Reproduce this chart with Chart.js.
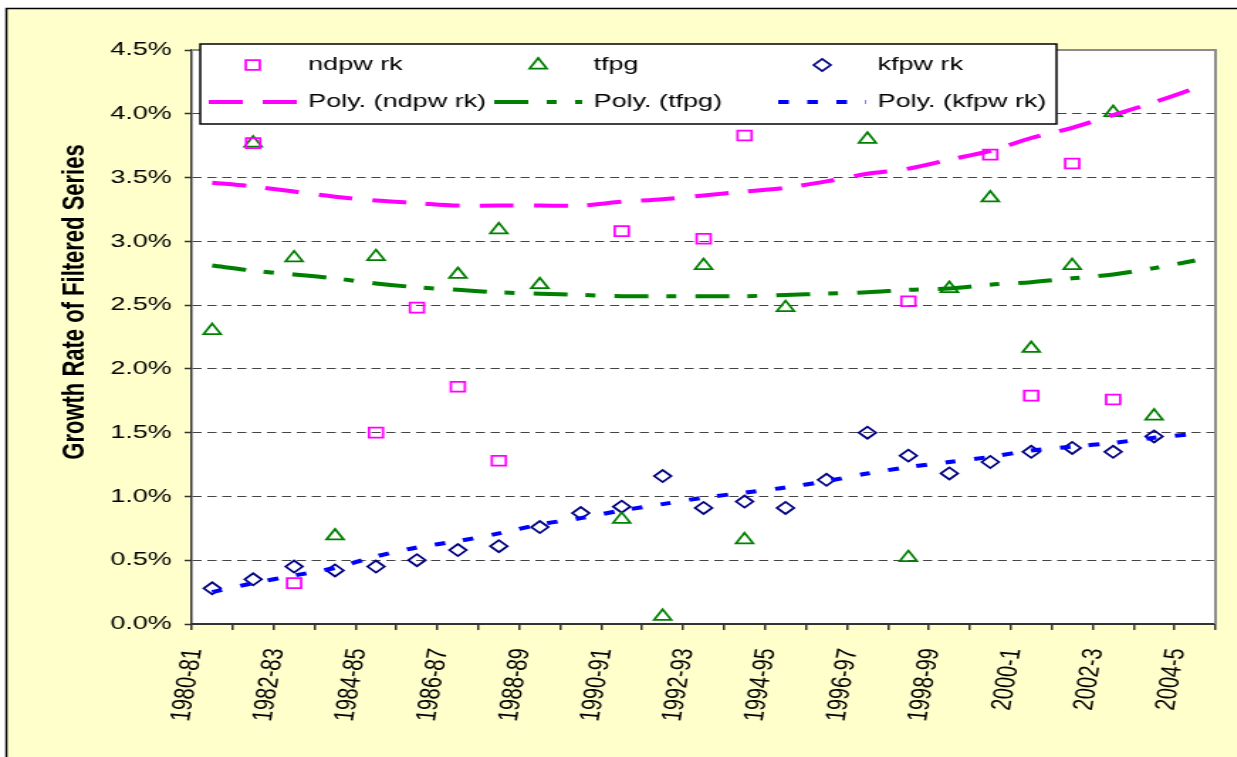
<!DOCTYPE html>
<html>
<head>
<meta charset="utf-8">
<title>Growth Rate of Filtered Series</title>
<script src="https://cdn.jsdelivr.net/npm/chart.js@4.4.1/dist/chart.umd.min.js"></script>
<style>
  html, body { margin: 0; padding: 0; background: #fff; overflow: hidden; }
  /* the source picture is a horizontally stretched export: draw narrow, then widen */
  #wrap { width: 871px; height: 757px; transform: scaleX(1.42); transform-origin: 0 0; }
</style>
</head>
<body>
<div id="wrap"><canvas id="chart" width="871" height="757"></canvas></div>
<script>
/* global Chart */
'use strict';

// ── Data ──────────────────────────────────────────────────────────────────────

const years = [
  '1980-81', '1981-82', '1982-83', '1983-84', '1984-85', '1985-86', '1986-87',
  '1987-88', '1988-89', '1989-90', '1990-91', '1991-92', '1992-93', '1993-94',
  '1994-95', '1995-96', '1996-97', '1997-98', '1998-99', '1999-00', '2000-1',
  '2001-2', '2002-3', '2003-4', '2004-5'
];

// growth rates in %, null where the point falls outside the plotted range
const ndpwrk = [null, 3.77, 0.32, null, 1.50, 2.48, 1.86, 1.28, null, null, 3.08, null, 3.02,
  3.83, null, null, null, 2.53, null, 3.68, 1.79, 3.61, 1.76, null, null];
const tfpg = [2.30, 3.77, 2.87, 0.69, 2.88, null, 2.74, 3.09, 2.66, null, 0.82, 0.06, 2.81,
  0.66, 2.48, null, 3.80, 0.52, 2.63, 3.34, 2.16, 2.81, 4.01, 1.63, null];
const kfpwrk = [0.28, 0.35, 0.45, 0.42, 0.45, 0.50, 0.58, 0.61, 0.76, 0.87, 0.92, 1.16, 0.91,
  0.96, 0.91, 1.13, 1.50, 1.32, 1.18, 1.27, 1.35, 1.38, 1.35, 1.47, null];

// polynomial trend lines at each year
const ndpwrkTrend = [3.46, 3.43, 3.39, 3.35, 3.32, 3.30, 3.28, 3.28, 3.28, 3.28, 3.31, 3.33, 3.36,
  3.39, 3.42, 3.47, 3.53, 3.57, 3.64, 3.71, 3.81, 3.89, 3.99, 4.09, 4.20];
const tfpgTrend = [2.81, 2.77, 2.74, 2.71, 2.67, 2.64, 2.62, 2.60, 2.59, 2.58, 2.57, 2.57, 2.57,
  2.57, 2.58, 2.59, 2.60, 2.62, 2.63, 2.66, 2.68, 2.71, 2.74, 2.79, 2.85];
const kfpwrkTrend = [0.25, 0.32, 0.38, 0.44, 0.53, 0.60, 0.65, 0.71, 0.78, 0.83, 0.89, 0.94, 0.99,
  1.03, 1.07, 1.12, 1.18, 1.23, 1.27, 1.31, 1.36, 1.39, 1.42, 1.46, 1.49];

const yTitle = 'Growth Rate of Filtered Series';

// ── Styles ────────────────────────────────────────────────────────────────────

const FONT = '"Liberation Sans", Arial, sans-serif';

function markers(label, data, color, style, radius) {
  return {
    label, data,
    showLine: false,
    pointStyle: style,
    pointRadius: radius,
    pointHoverRadius: radius,
    pointBorderWidth: 1.75,
    pointBorderColor: color,
    pointBackgroundColor: 'rgba(0,0,0,0)',
    borderColor: color
  };
}

function trend(label, data, color, dash) {
  return {
    label, data,
    borderColor: color,
    borderWidth: 4,
    borderDash: dash,
    borderCapStyle: 'butt',
    pointRadius: 0,
    tension: 0.3,
    fill: false
  };
}

// first dataset is drawn on top
const trendSets = [
  trend('Poly. (ndpw rk)', ndpwrkTrend, '#ff00ff', [24, 14]),
  trend('Poly. (tfpg)', tfpgTrend, '#008000', [24, 13, 7, 13]),
  trend('Poly. (kfpw rk)', kfpwrkTrend, '#0000ff', [7.5, 13])
];
const markerSets = [
  markers('ndpw rk', ndpwrk, '#ff00ff', 'rect', 7),
  markers('tfpg', tfpg, '#008000', 'triangle', 7),
  markers('kfpw rk', kfpwrk, '#000080', 'rectRot', 6)
];

// ── Plugins ───────────────────────────────────────────────────────────────────

const frame = {
  id: 'frame',
  beforeDraw(chart) {
    const { ctx, width, height, chartArea: a } = chart;
    ctx.save();
    ctx.fillStyle = '#fff';
    ctx.fillRect(0, 0, width, height);
    ctx.fillStyle = '#ffffcc';
    ctx.fillRect(4, 8, width, height);
    ctx.strokeStyle = '#000';
    ctx.lineWidth = 1.5;
    ctx.beginPath();
    ctx.moveTo(4.5, height);
    ctx.lineTo(4.5, 8.5);
    ctx.lineTo(width, 8.5);
    ctx.stroke();
    ctx.fillStyle = '#fff';
    ctx.fillRect(a.left, a.top, a.right - a.left, a.bottom - a.top);
    ctx.restore();
  },
  beforeDatasetsDraw(chart) {
    const { ctx, chartArea: a } = chart;
    ctx.save();
    ctx.strokeStyle = '#8c8c8c';
    ctx.lineWidth = 2;
    ctx.beginPath();
    ctx.moveTo(a.left, a.top);
    ctx.lineTo(a.right, a.top);
    ctx.lineTo(a.right, a.bottom);
    ctx.stroke();
    ctx.restore();
  },
  afterDraw(chart) {
    const ctx = chart.ctx;

    // y axis title
    ctx.save();
    ctx.translate(53, 302);
    ctx.rotate(-Math.PI / 2);
    ctx.font = 'bold 22px ' + FONT;
    ctx.fillStyle = '#000';
    ctx.textAlign = 'center';
    ctx.textBaseline = 'middle';
    ctx.fillText(yTitle, 0, 0);
    ctx.restore();

    // legend: three columns, markers on the first row, trend lines on the second
    ctx.save();
    ctx.fillStyle = '#fff';
    ctx.fillRect(141, 44, 603, 80);
    ctx.strokeStyle = '#000';
    ctx.lineWidth = 1.5;
    ctx.strokeRect(141, 44, 603, 80);

    const cols = [147, 348, 548];
    const rows = [65, 102];
    ctx.font = '19px ' + FONT;
    ctx.textBaseline = 'middle';
    cols.forEach((x0, i) => {
      const m = markerSets[i];
      const t = trendSets[i];
      ctx.fillStyle = 'rgba(0,0,0,0)';
      ctx.strokeStyle = m.pointBorderColor;
      ctx.lineWidth = m.pointBorderWidth;
      Chart.helpers.drawPoint(ctx, {
        pointStyle: m.pointStyle, radius: m.pointRadius, borderWidth: m.pointBorderWidth, rotation: 0
      }, x0 + 31, rows[0]);

      ctx.strokeStyle = t.borderColor;
      ctx.lineWidth = t.borderWidth;
      ctx.setLineDash(t.borderDash);
      ctx.beginPath();
      ctx.moveTo(x0, rows[1]);
      ctx.lineTo(x0 + 62, rows[1]);
      ctx.stroke();
      ctx.setLineDash([]);

      ctx.fillStyle = '#000';
      ctx.fillText(m.label, x0 + 70, rows[0]);
      ctx.fillText(t.label, x0 + 70, rows[1]);
    });
    ctx.restore();
  }
};

// ── Chart ─────────────────────────────────────────────────────────────────────

new Chart(document.getElementById('chart'), {
  type: 'line',
  data: { labels: years, datasets: [...trendSets, ...markerSets] },
  options: {
    responsive: false,
    animation: false,
    devicePixelRatio: 1,
    layout: { padding: { left: 0, top: 50, right: 15, bottom: 0 } },
    plugins: { legend: { display: false }, tooltip: { enabled: false } },
    scales: {
      x: {
        offset: true,
        afterFit: s => {
          s.height = 133;
          // rotated labels fit inside the plot width, keep the plot edges fixed
          s.paddingLeft = 0;
          s.paddingRight = 0;
        },
        grid: {
          offset: true, drawOnChartArea: false, drawTicks: true,
          tickLength: 6, color: '#333', lineWidth: 1.5, tickBorderDash: []
        },
        border: { color: '#333', width: 2 },
        ticks: {
          autoSkip: false, minRotation: 83, maxRotation: 83,
          labelOffset: -13, padding: 17, color: '#000',
          font: { family: FONT, size: 20 },
          callback(v, i) { return i % 2 ? '' : this.getLabelForValue(v); }
        }
      },
      y: {
        min: 0,
        max: 4.5,
        afterFit: s => { s.width = 135; },
        ticks: {
          stepSize: 0.5, padding: 9, color: '#000',
          font: { family: FONT, size: 19 },
          callback: v => v.toFixed(1) + '%'
        },
        grid: {
          z: -1, color: '#444', lineWidth: 1, tickLength: 5,
          tickColor: '#333', tickWidth: 1.5, tickBorderDash: []
        },
        border: { color: '#333', width: 1.5, dash: [6.5, 4] }
      }
    }
  },
  plugins: [frame]
});
</script>
</body>
</html>
